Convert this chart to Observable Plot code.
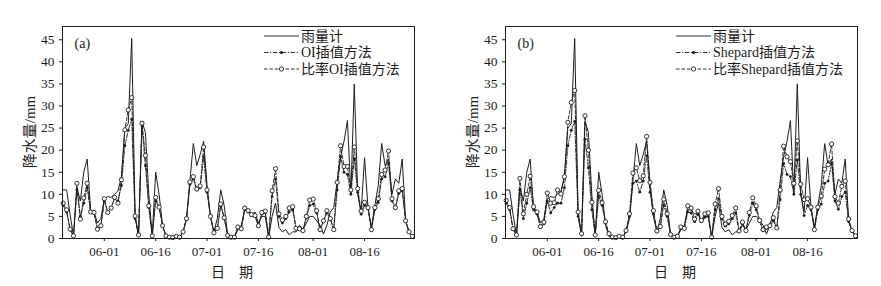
<!DOCTYPE html>
<html>
<head>
<meta charset="utf-8">
<script src="https://cdn.jsdelivr.net/npm/d3@7"></script>
<script src="https://cdn.jsdelivr.net/npm/@observablehq/plot@0.6"></script>
<style>
  html, body { margin: 0; padding: 0; background: #fff; }
  #wrap { display: flex; width: 881px; height: 286px; }
  #wrap svg text { font-family: "Liberation Serif", "Noto Sans CJK SC", serif !important; }
</style>
</head>
<body>
<div id="wrap"></div>
<script>
// ---- data ----
const startDate = "2008-05-20";
const endDate = "2008-08-31"; // exclusive
const dates = d3.utcDay.range(new Date(startDate), new Date(endDate));

const gauge = [
  11, 11, 5.5, 0.5, 11.5, 8.5, 15, 18, 6.5, 6,
  3.5, 4.5, 9, 9.5, 9.3, 10, 10.8, 14, 25, 26,
  45.3, 5, 0.5, 26.5, 24, 10, 0.5, 15, 10, 3,
  0.5, 0.3, 0.2, 0.3, 0.2, 1.5, 4.5, 13, 21.5, 16.5,
  19, 22, 12, 5, 1.5, 4.5, 11, 7.5, 1, 0.3,
  0.3, 2, 3, 6.5, 6.5, 5.5, 6, 3.5, 5, 5,
  0.3, 5, 8, 2.5, 1.5, 2, 0.8, 1.5, 1.5, 3,
  2, 3.5, 5, 5, 4, 3, 1, 3, 6, 7,
  13, 18.5, 22, 26.7, 10, 35, 10, 6, 18.3, 7,
  2.5, 7.5, 12, 21.5, 16.5, 18, 10, 13.5, 12.5, 18,
  4, 1.5, 0.5
];
const oi = [
  7.5, 6, 2, 0.6, 11, 5, 8, 11.5, 6, 5.8,
  2.3, 3, 8.5, 6, 7, 9, 8.5, 12, 21, 24.5,
  27, 4.5, 0.8, 25.5, 16.5, 7, 0.6, 8.5, 7, 3,
  0.6, 0.3, 0.2, 0.4, 0.3, 1.5, 4.3, 12.3, 13.5, 11,
  11.5, 18.5, 10.5, 5, 1.3, 2.3, 7.3, 4.7, 0.7, 0.3,
  0.3, 2.4, 2.2, 6.5, 6, 5.2, 5, 2.9, 5.5, 5.8,
  0.3, 9.5, 13.5, 5, 3.5, 4.5, 6, 6.5, 2.2, 2.2,
  1.8, 4.7, 7.5, 7.8, 5.8, 1.8, 3.8, 5.8, 4.3, 2,
  11, 18.5, 15, 14.5, 10, 18, 10.5, 5.5, 7.5, 6.8,
  2, 6.5, 8.2, 13.5, 14, 17, 8.5, 6.8, 10.2, 10.8,
  3.8, 1.5, 0.5
];
const ratioOi = [
  8, 6.5, 2.1, 0.6, 12.5, 4.4, 9.2, 12.5, 6, 5.9,
  2.1, 2.9, 9, 5.9, 6.9, 9.3, 8, 13.3, 24.6, 29.1,
  31.9, 5.1, 0.8, 26.1, 18.8, 7.4, 0.6, 9.3, 7.1, 2.9,
  0.6, 0.3, 0.2, 0.5, 0.3, 1.5, 4.5, 12.8, 14, 11.2,
  11.9, 20.7, 11, 5, 1.3, 2.3, 7.8, 4.7, 0.7, 0.3,
  0.3, 2.6, 2.2, 6.9, 6.3, 5.4, 5.2, 2.9, 5.9, 6.2,
  0.3, 10.8, 15.8, 5.6, 4.2, 5, 6.9, 7.2, 2.3, 2.2,
  1.8, 5, 8.7, 8.9, 6.3, 2, 4, 6.3, 4.5, 2,
  12.7, 21, 16.3, 16.3, 11, 20.7, 11.3, 6.2, 8.2, 7,
  2, 7, 9, 14.5, 15.5, 19.8, 9, 7, 10.8, 11.3,
  4, 1.5, 0.5
];
const shepard = [
  8, 6.5, 2, 0.8, 11, 4.5, 8, 11.5, 6.5, 5.5,
  2.5, 3.3, 8.5, 5.8, 7, 8, 8, 11.5, 21, 24.5,
  26.5, 5, 1, 22.5, 16, 6.5, 0.8, 9.5, 7.5, 3.5,
  1, 0.3, 0.2, 0.4, 0.3, 1.6, 5, 12.5, 13, 10.5,
  13, 18.7, 10.5, 5.5, 1.7, 2.5, 7.5, 5, 0.9, 0.3,
  0.5, 2.3, 2.2, 6, 5.8, 3.8, 5.5, 3.8, 4.8, 5,
  0.3, 6.5, 9, 4.5, 2.8, 3.3, 4.5, 5.8, 1.6, 3.3,
  1.8, 5.2, 8, 6.5, 3.8, 1.8, 2.3, 2.7, 4, 2.3,
  8.8, 17, 14.5, 14, 10, 17.8, 10, 5.2, 7.5, 6.5,
  2, 6.5, 7.8, 12.5, 13, 17, 8.5, 6.6, 9.5, 10.5,
  3.8, 1.8, 0.6
];
const ratioShepard = [
  8.6, 7, 2.2, 0.8, 13.6, 5.6, 10, 14.1, 7.2, 6,
  2.7, 3.7, 10.3, 8, 8.1, 11, 10.1, 14, 26.3, 30.8,
  33.5, 6, 1.1, 27.8, 20, 8.2, 0.8, 10.9, 8.1, 3.8,
  1.1, 0.3, 0.2, 0.5, 0.3, 1.8, 5.6, 14.8, 16, 13.1,
  14.2, 23.1, 12.7, 6.3, 1.7, 2.7, 8.9, 5.6, 0.9, 0.3,
  0.5, 2.6, 2.3, 7.4, 6.9, 4.4, 6.2, 4.1, 5.6, 5.8,
  0.3, 7.8, 11.3, 5, 3.3, 3.9, 5.2, 6.9, 1.7, 3.7,
  1.8, 5.9, 9.2, 7.4, 4.1, 2, 2.6, 2.9, 4.7, 2.4,
  11, 20.9, 18.5, 17.4, 12.5, 22.1, 12.3, 8.8, 9, 7.1,
  2, 7.1, 9.6, 15.7, 16.7, 21.4, 9.5, 8, 11.8, 13,
  4.4, 1.8, 0.6
];

const xTickLabels = ["06-01", "06-16", "07-01", "07-16", "08-01", "08-16"];
const yTicks = [0, 5, 10, 15, 20, 25, 30, 35, 40, 45];
const seriesNamesA = ["雨量计", "OI插值方法", "比率OI插值方法"];
const seriesNamesB = ["雨量计", "Shepard插值方法", "比率Shepard插值方法"];
const yLabel = "降水量/mm";
const xLabel = "日\u3000期";

// ---- drawing ----
const INK = "#1c1c1c";
const SERIF = "'Liberation Serif', 'Noto Sans CJK SC', serif";
const DASHDOT = "4.5,1.6,1.2,1.6";
const DASH = "3.6,1.8";
const xDomain = [new Date(Date.UTC(2008, 4, 19, 19)), new Date(Date.UTC(2008, 7, 30, 14))];
const tickDates = xTickLabels.map(s => new Date(`2008-${s}`));
const fmt = d3.utcFormat("%m-%d");

function panel({width, ml, mr, tag, est, ratio, names, legendX}) {
  const rows = dates.map((d, i) => ({date: d, gauge: gauge[i], est: est[i], ratio: ratio[i]}));
  const plot = Plot.plot({
    width, height: 286,
    marginLeft: ml, marginRight: mr, marginTop: 26, marginBottom: 48,
    style: {fontFamily: SERIF, fontSize: "13px", color: INK, background: "white", overflow: "visible"},
    x: {type: "utc", domain: xDomain, axis: null},
    y: {domain: [0, 48], axis: null},
    marks: [
      Plot.axisX({ticks: tickDates, tickFormat: fmt, tickSize: 3, tickPadding: 5, label: null, fontSize: 13, stroke: INK}),
      Plot.axisY({ticks: yTicks, tickSize: 3, tickPadding: 5, label: null, fontSize: 13.5, stroke: INK}),
      Plot.line(rows, {x: "date", y: "gauge", stroke: INK, strokeWidth: 1}),
      Plot.line(rows, {x: "date", y: "est", stroke: INK, strokeWidth: 0.9, strokeDasharray: DASHDOT}),
      Plot.dot(rows, {x: "date", y: "est", r: 1.4, fill: INK}),
      Plot.line(rows, {x: "date", y: "ratio", stroke: INK, strokeWidth: 0.9, strokeDasharray: DASH}),
      Plot.dot(rows, {x: "date", y: "ratio", r: 2.1, fill: "white", stroke: INK, strokeWidth: 0.9}),
      Plot.frame({stroke: INK, strokeWidth: 1}),
      Plot.text([tag], {frameAnchor: "top-left", dx: 12, dy: 17, text: d => d, fontSize: 14, textAnchor: "start", lineAnchor: "middle", fill: INK})
    ]
  });

  const svg = d3.select(plot);
  // legend
  const lg = svg.append("g").attr("font-size", 14).attr("fill", INK).attr("text-anchor", "start");
  const rowsY = [36, 52.5, 69];
  const styles = [null, DASHDOT, DASH];
  names.forEach((name, i) => {
    const y = rowsY[i];
    lg.append("line").attr("x1", legendX).attr("x2", legendX + 35).attr("y1", y).attr("y2", y)
      .attr("stroke", INK).attr("stroke-width", 0.9).attr("stroke-dasharray", styles[i]);
    if (i === 1) lg.append("circle").attr("cx", legendX + 17.5).attr("cy", y).attr("r", 1.6).attr("fill", INK);
    if (i === 2) lg.append("circle").attr("cx", legendX + 17.5).attr("cy", y).attr("r", 2.1).attr("fill", "white").attr("stroke", INK).attr("stroke-width", 0.9);
    lg.append("text").attr("x", legendX + 37).attr("y", y).attr("dy", "0.35em").attr("text-anchor", "start").text(name);
  });
  // axis titles
  svg.append("text").attr("transform", `translate(${ml - 32},132) rotate(-90)`)
    .attr("text-anchor", "middle").attr("dy", "0.35em")
    .attr("font-size", 15).attr("fill", INK).text(yLabel);
  svg.append("text").attr("x", ml + (width - ml - mr) / 2 - 6).attr("y", 272).attr("dy", "0.35em")
    .attr("text-anchor", "middle").attr("font-size", 14).attr("fill", INK).text(xLabel);
  return plot;
}

const wrap = document.getElementById("wrap");
wrap.appendChild(panel({width: 440, ml: 62, mr: 26, tag: "(a)", est: oi, ratio: ratioOi, names: seriesNamesA, legendX: 264}));
wrap.appendChild(panel({width: 441, ml: 65, mr: 24, tag: "(b)", est: shepard, ratio: ratioShepard, names: seriesNamesB, legendX: 236}));
</script>
</body>
</html>
